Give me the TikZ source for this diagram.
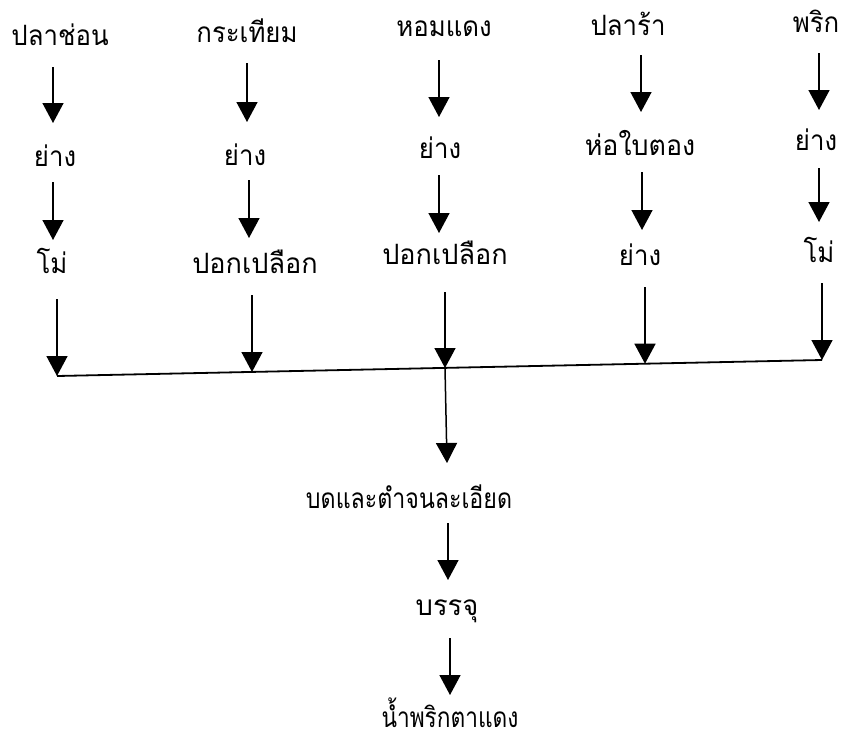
\documentclass[tikz,border=0pt]{standalone}
\usepackage{fontspec}
\usepackage{graphicx}
\newfontfamily\thaifont[Script=Thai,FakeStretch=0.92]{Loma}
\usetikzlibrary{arrows.meta}
\newcommand{\hsq}[2]{\scalebox{#1}[1]{#2}}
\tikzset{
  lbl/.style={inner sep=0pt, anchor=base, font=\thaifont\fontsize{28}{32}\selectfont},
  arr/.style={line width=1.5pt, -{Triangle[width=21pt,length=20pt]}},
  ln/.style={line width=1.8pt}
}
\begin{document}
\begin{tikzpicture}[x=1pt,y=-1pt]
\useasboundingbox[fill=white] (0,0) rectangle (848,742);
% row 1
\node[lbl] (r1c1) at (60,45) {ปลาช่อน};
\node[lbl] (r1c2) at (247,42) {กระเทียม};
\node[lbl] (r1c3) at (444,36) {หอมแดง};
\node[lbl] (r1c4) at (628,35) {ปลาร้า};
\node[lbl] (r1c5) at (816,32) {พริก};
% row 2
\node[lbl] (r2c1) at (55,166) {ย่าง};
\node[lbl] (r2c2) at (245,165) {ย่าง};
\node[lbl] (r2c3) at (440,158) {ย่าง};
\node[lbl] (r2c4) at (640,155) {\hsq{1.04}{ห่อใบตอง}};
\node[lbl] (r2c5) at (816,150) {ย่าง};
% row 3
\node[lbl] (r3c1) at (52,273) {โม่};
\node[lbl] (r3c2) at (255,273) {\hsq{1.05}{ปอกเปลือก}};
\node[lbl] (r3c3) at (445,264) {\hsq{1.05}{ปอกเปลือก}};
\node[lbl] (r3c4) at (640,265) {ย่าง};
\node[lbl] (r3c5) at (819,262) {โม่};
% lower chain
\node[lbl] (grind) at (409,508) {\hsq{0.9}{บดและตำจนละเอียด}};
\node[lbl] (pack) at (447,615) {\hsq{1.06}{บรรจุ}};
\node[lbl] (final) at (450,727) {\hsq{0.88}{น้ำพริกตาแดง}};
% arrow end points
\coordinate (a11s) at (53,67);  \coordinate (a11e) at (53,123);
\coordinate (a12s) at (247,63); \coordinate (a12e) at (247,122);
\coordinate (a13s) at (439,60); \coordinate (a13e) at (439,117);
\coordinate (a14s) at (641,55); \coordinate (a14e) at (641,112);
\coordinate (a15s) at (819,53); \coordinate (a15e) at (819,110);
\coordinate (a21s) at (53,182);  \coordinate (a21e) at (53,240);
\coordinate (a22s) at (249,180); \coordinate (a22e) at (249,238);
\coordinate (a23s) at (439,175); \coordinate (a23e) at (439,233);
\coordinate (a24s) at (642,172); \coordinate (a24e) at (642,230);
\coordinate (a25s) at (819,168); \coordinate (a25e) at (819,222);
\coordinate (a31s) at (57,299);  \coordinate (h1) at (57,376);
\coordinate (a32s) at (252,295); \coordinate (h2) at (252,372);
\coordinate (a33s) at (445,292); \coordinate (h3) at (445,368);
\coordinate (a34s) at (645,287); \coordinate (h4) at (645,363.7);
\coordinate (a35s) at (822,283); \coordinate (h5) at (822,360);
\coordinate (m1e) at (447,463);
\coordinate (m2s) at (448,523); \coordinate (m2e) at (448,580);
\coordinate (m3s) at (450,638); \coordinate (m3e) at (450,695);
% arrows
\foreach \i in {1,...,5} {
  \draw[arr] (a1\i s) -- (a1\i e);
  \draw[arr] (a2\i s) -- (a2\i e);
  \draw[arr] (a3\i s) -- (h\i);
}
\draw[ln] (h1) -- (h5);
\draw[arr] (h3) -- (m1e);
\draw[arr] (m2s) -- (m2e);
\draw[arr] (m3s) -- (m3e);
\end{tikzpicture}
\end{document}
